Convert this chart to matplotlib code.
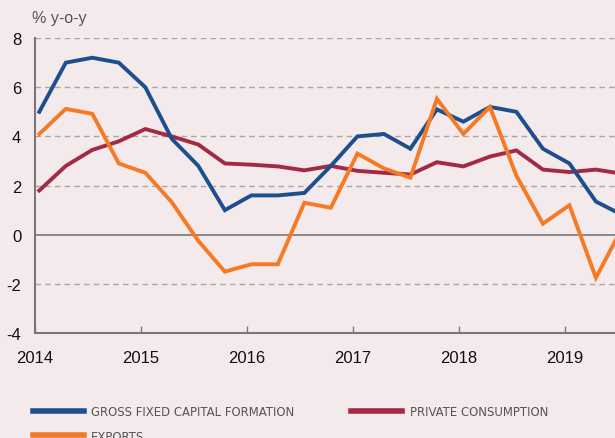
import numpy as np
import pandas as pd
import matplotlib
matplotlib.use("Agg")
import matplotlib.pyplot as plt

# quarterly data, % y-o-y
quarters = pd.period_range("2014Q1", periods=23, freq="Q")
gfcf = [5.0, 7.0, 7.2, 7.0, 6.0, 3.9, 2.8, 1.0, 1.6, 1.6, 1.7, 2.8,
        4.0, 4.1, 3.5, 5.1, 4.6, 5.2, 5.0, 3.5, 2.9, 1.35, 0.8]
private_cons = [1.8, 2.8, 3.45, 3.8, 4.3, 4.0, 3.67, 2.9, 2.85, 2.78, 2.62, 2.8,
                2.6, 2.52, 2.45, 2.95, 2.78, 3.18, 3.43, 2.65, 2.55, 2.65, 2.48]
exports = [4.1, 5.12, 4.92, 2.9, 2.52, 1.32, -0.25, -1.5, -1.2, -1.2, 1.3, 1.1,
           3.3, 2.7, 2.32, 5.53, 4.1, 5.2, 2.4, 0.45, 1.2, -1.75, 0.3]
year_ticks = [2014, 2015, 2016, 2017, 2018, 2019]
y_ticks = [-4, -2, 0, 2, 4, 6, 8]

bg = "#f5eaeb"
c_blue = "#1d4f8f"
c_red = "#a32a44"
c_orange = "#f57a25"

x = np.array([q.year + (q.quarter - 1) / 4 + 0.04 for q in quarters])

plt.rcParams["font.family"] = ["Liberation Sans", "DejaVu Sans"]
plt.rcParams["axes.unicode_minus"] = False

fig = plt.figure(figsize=(6.15, 4.39), dpi=100, facecolor=bg)
ax = fig.add_axes([0.057, 0.239, 0.943, 0.672])
ax.set_facecolor(bg)

for yv in [8, 6, 4, 2, -2]:
    ax.axhline(yv, color="#a8a4a5", lw=1.0, ls=(0, (4, 3)), zorder=1)
ax.axhline(0, color="#7a7778", lw=1.2, zorder=1)

lw = 2.8
l1, = ax.plot(x, gfcf, color=c_blue, lw=lw, zorder=3, solid_joinstyle="miter")
l3, = ax.plot(x, private_cons, color=c_red, lw=lw, zorder=2, solid_joinstyle="miter")
l2, = ax.plot(x, exports, color=c_orange, lw=lw, zorder=4, solid_joinstyle="miter")

ax.set_xlim(2014, 2019.47)
ax.set_ylim(-4, 8)
ax.set_xticks(year_ticks)
ax.set_xticklabels([str(y) for y in year_ticks])
ax.set_yticks(y_ticks)

for s in ["top", "right"]:
    ax.spines[s].set_visible(False)
for s in ["left", "bottom"]:
    ax.spines[s].set_color("#7a7778")
    ax.spines[s].set_linewidth(1.5)

ax.tick_params(axis="x", direction="in", length=5, width=1, color="#7a7778",
               labelsize=12, pad=12, labelcolor="#111111")
ax.tick_params(axis="y", length=0, labelsize=12, pad=10, labelcolor="#111111")

fig.text(0.052, 0.957, "% y-o-y", fontsize=11.5, color="#555555", ha="left", va="center")

leg = fig.legend([l1, l2, l3],
                 ["GROSS FIXED CAPITAL FORMATION", "EXPORTS", "PRIVATE CONSUMPTION"],
                 ncol=2, loc="upper left", bbox_to_anchor=(0.034, 0.101),
                 frameon=False, handlelength=3.9, handletextpad=0.55,
                 columnspacing=4.4, labelspacing=0.85,
                 prop={"family": "DejaVu Sans", "stretch": "condensed", "size": 9.4})
for t in leg.get_texts():
    t.set_color("#555555")
for h in leg.legend_handles:
    h.set_linewidth(4)

fig.savefig("out.png", dpi=100, facecolor=bg)
